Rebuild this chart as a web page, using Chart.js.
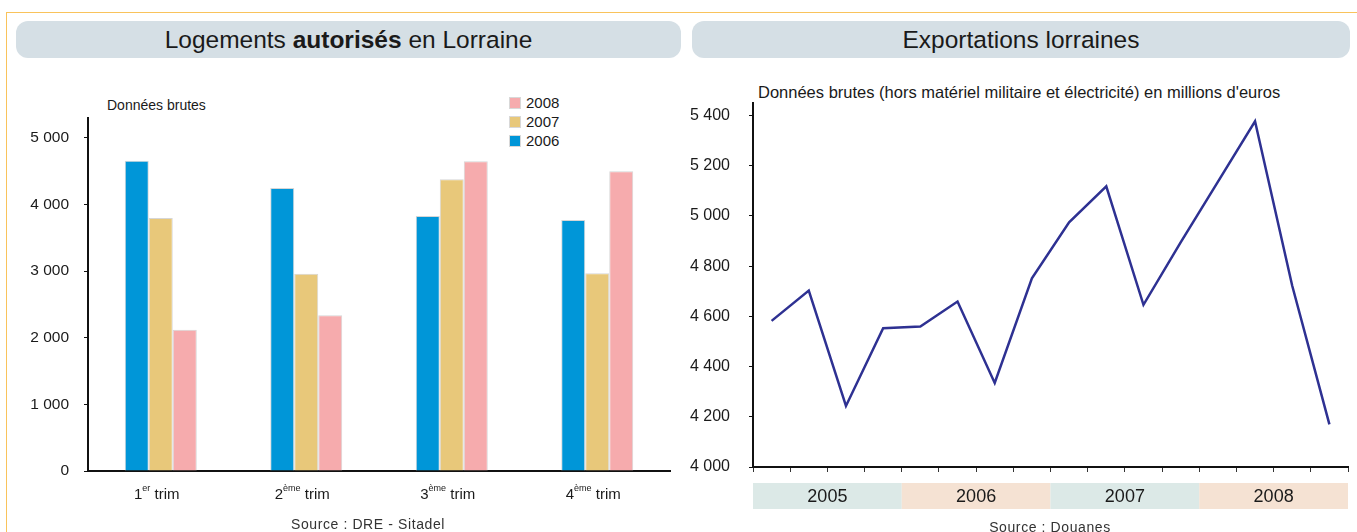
<!DOCTYPE html>
<html lang="fr">
<head>
<meta charset="utf-8">
<title>Logements autorisés et exportations en Lorraine</title>
<script src="https://cdn.jsdelivr.net/npm/chart.js@4"></script>
<style>
  body { margin: 0; background: #fff; font-family: 'Liberation Sans', Arial, sans-serif; color: #1a1a1a; }
  #page { position: relative; width: 1357px; height: 532px; overflow: hidden; background: #fff; }
  .frame { position: absolute; left: 6px; top: 12px; width: 1400px; height: 600px;
           border-top: 1.5px solid #F9C35B; border-left: 1.5px solid #F9C35B; }
  .titleBar { position: absolute; top: 21px; height: 37px; border-radius: 12px; background: #D5DFE5;
              text-align: center; line-height: 37px; font-size: 24.5px; color: #1a1a1a; }
  .note { position: absolute; white-space: nowrap; color: #1a1a1a; }
  .source { position: absolute; white-space: nowrap; font-size: 14px; letter-spacing: 0.6px; color: #333;
            transform: translateX(-50%); }
  .legend { position: absolute; left: 509px; top: 94px; font-size: 15px; }
  .legend div { height: 19px; line-height: 17px; }
  .legend span { display: inline-block; width: 12px; height: 12px; margin-right: 5px; vertical-align: -1px;
                 box-sizing: border-box; border: 1px solid #d8d8d8; }
  canvas { position: absolute; }
</style>
</head>
<body>
<div id="page">
  <div class="frame"></div>
  <div class="titleBar" style="left:16px; width:665px;">Logements <b>autorisés</b> en Lorraine</div>
  <div class="titleBar" style="left:692px; width:658px;">Exportations lorraines</div>

  <div class="note" style="left:107px; top:97px; font-size:14px;">Données brutes</div>
  <div class="note" style="left:758px; top:83px; font-size:16.5px;">Données brutes (hors matériel militaire et électricité) en millions d'euros</div>

  <div class="legend" id="legend"></div>

  <canvas id="logements" width="680" height="472" style="left:0; top:60px;"></canvas>
  <canvas id="exports" width="677" height="472" style="left:680px; top:60px;"></canvas>

  <div class="source" style="left:368px; top:516px;">Source : DRE - Sitadel</div>
  <div class="source" style="left:1050px; top:519px;">Source : Douanes</div>
</div>

<script>
// Logements autorisés (données brutes)
const trimNum = ['1', '2', '3', '4'];
const trimSup = ['er', 'ème', 'ème', 'ème'];
const trimLabels = ['1er trim', '2ème trim', '3ème trim', '4ème trim'];
const logements2006 = [4660, 4250, 3830, 3770];
const logements2007 = [3800, 2960, 4380, 2970];
const logements2008 = [2120, 2340, 4650, 4500];
const logementsTicks = [0, 1000, 2000, 3000, 4000, 5000];

// Exportations lorraines, millions d'euros, par trimestre
const years = ['2005', '2006', '2007', '2008'];
const quarters = ['T1 2005', 'T2 2005', 'T3 2005', 'T4 2005',
                  'T1 2006', 'T2 2006', 'T3 2006', 'T4 2006',
                  'T1 2007', 'T2 2007', 'T3 2007', 'T4 2007',
                  'T1 2008', 'T2 2008', 'T3 2008', 'T4 2008'];
const exportations = [4582, 4703, 4243, 4553, 4560, 4659, 4335, 4752,
                      4975, 5118, 4646, 4895, 5136, 5377, 4722, 4170];
const exportTicks = [4000, 4200, 4400, 4600, 4800, 5000, 5200, 5400];

const FONT = "'Liberation Sans', Arial, sans-serif";
Chart.defaults.font.family = FONT;
Chart.defaults.color = '#1a1a1a';

function spaced(v) {
  return String(v).replace(/\B(?=(\d{3})+(?!\d))/g, ' ');
}

// legend (2008 on top, like the original)
const legendItems = [
  { label: '2008', color: '#F6ABAD' },
  { label: '2007', color: '#E8C87A' },
  { label: '2006', color: '#0096D8' }
];
document.getElementById('legend').innerHTML = legendItems
  .map(it => `<div><span style="background:${it.color}"></span>${it.label}</div>`).join('');

// x labels with superscript ("1er trim")
const trimLabelPlugin = {
  id: 'trimLabels',
  afterDraw(chart) {
    const x = chart.scales.x;
    const ctx = chart.ctx;
    const y = chart.chartArea.bottom + 24;
    ctx.save();
    ctx.fillStyle = '#1a1a1a';
    ctx.textBaseline = 'middle';
    ctx.textAlign = 'left';
    trimNum.forEach((n, i) => {
      ctx.font = '15px ' + FONT;
      const wNum = ctx.measureText(n).width;
      const wRest = ctx.measureText(' trim').width;
      ctx.font = '9px ' + FONT;
      const wSup = ctx.measureText(trimSup[i]).width;
      let px = x.getPixelForValue(i) - 4 - (wNum + wSup + wRest) / 2;
      ctx.font = '15px ' + FONT;
      ctx.fillText(n, px, y);
      px += wNum;
      ctx.font = '9px ' + FONT;
      ctx.fillText(trimSup[i], px, y - 6);
      px += wSup;
      ctx.font = '15px ' + FONT;
      ctx.fillText(' trim', px, y);
    });
    ctx.restore();
  }
};

// coloured year bands under the quarters
const yearBandPlugin = {
  id: 'yearBands',
  afterDraw(chart) {
    const x = chart.scales.x;
    const ctx = chart.ctx;
    const step = x.getPixelForValue(1) - x.getPixelForValue(0);
    const top = chart.chartArea.bottom + 16;
    const h = 26;
    ctx.save();
    years.forEach((yr, k) => {
      const x0 = x.getPixelForValue(k * 4) - step / 2;
      const x1 = x.getPixelForValue(k * 4 + 3) + step / 2;
      ctx.fillStyle = k % 2 ? '#F5E2D3' : '#DCE9E7';
      ctx.fillRect(x0, top, x1 - x0, h);
      ctx.fillStyle = '#1a1a1a';
      ctx.font = '18px ' + FONT;
      ctx.textAlign = 'center';
      ctx.textBaseline = 'middle';
      ctx.fillText(yr, (x0 + x1) / 2, top + h / 2 + 1);
    });
    ctx.restore();
  }
};

new Chart(document.getElementById('logements'), {
  type: 'bar',
  data: {
    labels: trimLabels,
    datasets: [
      { label: '2006', data: logements2006, backgroundColor: '#0096D8', borderColor: '#d6d6d6', borderWidth: 1 },
      { label: '2007', data: logements2007, backgroundColor: '#E8C87A', borderColor: '#d6d6d6', borderWidth: 1 },
      { label: '2008', data: logements2008, backgroundColor: '#F6ABAD', borderColor: '#d6d6d6', borderWidth: 1 }
    ]
  },
  options: {
    responsive: false,
    animation: false,
    layout: { padding: { left: 0, right: 10, top: 58, bottom: 0 } },
    plugins: { legend: { display: false }, tooltip: { enabled: false } },
    datasets: { bar: { barPercentage: 1, categoryPercentage: 0.495 } },
    scales: {
      x: {
        grid: { display: false },
        border: { color: '#111', width: 2 },
        ticks: { display: false },
        afterFit: s => { s.height = 61; }
      },
      y: {
        min: 0,
        max: 5300,
        grid: { drawOnChartArea: false, tickLength: 4, color: '#111' },
        border: { color: '#111', width: 2 },
        ticks: { autoSkip: false, padding: 15, font: { size: 15.5 }, callback: v => spaced(v) },
        afterBuildTicks: s => { s.ticks = logementsTicks.map(v => ({ value: v })); },
        afterFit: s => { s.width = 88; }
      }
    }
  },
  plugins: [trimLabelPlugin]
});

new Chart(document.getElementById('exports'), {
  type: 'line',
  data: {
    labels: quarters,
    datasets: [{
      label: 'Exportations',
      data: exportations,
      borderColor: '#2E3192',
      borderWidth: 2.5,
      pointRadius: 0,
      tension: 0,
      fill: false
    }]
  },
  options: {
    responsive: false,
    animation: false,
    layout: { padding: { left: 0, right: 9, top: 43, bottom: 0 } },
    plugins: { legend: { display: false }, tooltip: { enabled: false } },
    scales: {
      x: {
        offset: true,
        grid: { offset: true, drawOnChartArea: false, tickLength: 5, color: '#333' },
        border: { color: '#111', width: 2 },
        ticks: { display: false },
        afterFit: s => { s.height = 65; }
      },
      y: {
        min: 4000,
        max: 5450,
        grid: { drawOnChartArea: false, tickLength: 4, color: '#111' },
        border: { color: '#111', width: 2 },
        ticks: { autoSkip: false, padding: 19, font: { size: 16 }, callback: v => spaced(v) },
        afterBuildTicks: s => { s.ticks = exportTicks.map(v => ({ value: v })); },
        afterFit: s => { s.width = 73; }
      }
    }
  },
  plugins: [yearBandPlugin]
});
</script>
</body>
</html>
